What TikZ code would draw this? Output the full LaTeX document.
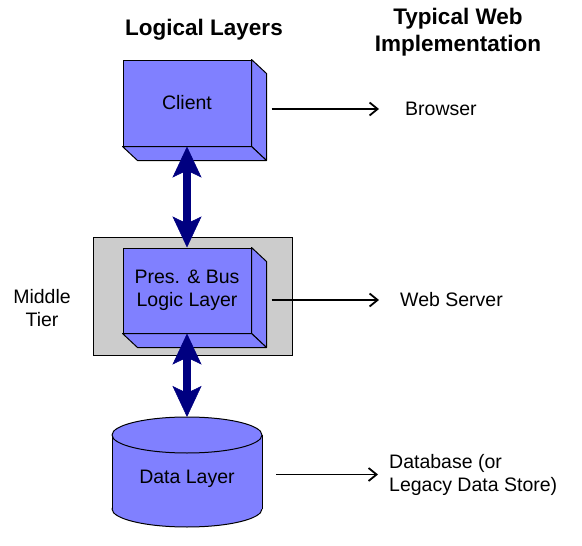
\documentclass[tikz,border=0pt]{standalone}
\usepackage{fontspec}
\setmainfont{Liberation Sans}
\usetikzlibrary{arrows.meta}
\definecolor{layerblue}{RGB}{128,128,255}
\definecolor{linknavy}{RGB}{0,0,128}
\definecolor{tiergray}{RGB}{204,204,204}
\begin{document}
\begin{tikzpicture}[x=1pt,y=-1pt,
    every node/.style={font=\fontsize{19.5}{23}\selectfont},
    layer/.style={draw,line width=1pt,fill=layerblue,minimum width=128pt,minimum height=86pt,inner sep=0pt,align=center},
    face/.style={draw,line width=1pt,fill=layerblue,line join=round},
    link/.style={linknavy,line width=8pt,
        {Stealth[length=31pt,width=29pt,inset=7pt,line width'=0.5pt]}-{Stealth[length=31pt,width=29pt,inset=7pt,line width'=0.5pt]}},
    impl/.style={line width=1.8pt,-{Straight Barb[length=8pt,width=13pt]}},
    label/.style={inner sep=0pt,anchor=west,align=left},
    head/.style={font=\fontsize{22.5}{27}\selectfont\bfseries,align=center,inner sep=0pt}]
    \pgfmathsetmacro{\dx}{15}
    \pgfmathsetmacro{\dy}{14}
    \useasboundingbox (0,0) rectangle (582,546);
    % headings
    \node[head] (logical) at (204,30) {Logical Layers};
    \node[head] (typical) at (458,32) {Typical Web\\Implementation};
    % middle tier
    \draw[line width=1pt,fill=tiergray] (93,237) rectangle (292,355);
    \node[inner sep=0pt,align=center] (middle) at (42,308.5) {Middle\\Tier};
    % layers
    \node[layer] (client) at (187,103) {Client};
    \node[layer,minimum height=85pt] (pres) at (187,290.5) {Pres. \& Bus\\Logic Layer};
    \foreach \n in {client,pres}{
        \draw[face] (\n.north east) -- ++(\dx,\dy) -- ([shift={(\dx,\dy)}]\n.south east) -- (\n.south east) -- cycle;
        \draw[face] (\n.south west) -- ++(\dx,\dy) -- ([shift={(\dx,\dy)}]\n.south east) -- (\n.south east) -- cycle;
    }
    % data layer cylinder
    \draw[face] (187,509) ellipse [x radius=75, y radius=18];
    \fill[layerblue] (112,435) rectangle (262,509);
    \draw[line width=1pt] (112,435) -- (112,509) (262,435) -- (262,509);
    \draw[face] (187,435) ellipse [x radius=75, y radius=18];
    \node[minimum width=150pt,inner sep=0pt] (data) at (187,479) {Data Layer};
    \coordinate (dbtop) at (187,417);
    % links between layers
    \draw[link] (client.south) -- (pres.north);
    \draw[link] (pres.south) -- (dbtop);
    % web implementation
    \node[label] (browser) at (405,109) {Browser};
    \node[label] (webserver) at (400,300) {Web Server};
    \node[label] (database) at (389,474.5) {Database (or\\Legacy Data Store)};
    \draw[impl] ([xshift=20pt]client.east |- browser.west) -- ([xshift=-26pt]browser.west);
    \draw[impl] ([xshift=20pt]pres.east |- webserver.west) -- ([xshift=-21pt]webserver.west);
    \draw[impl] ([xshift=14pt]data.east |- database.west) -- ([xshift=-11pt]database.west);
\end{tikzpicture}
\end{document}
